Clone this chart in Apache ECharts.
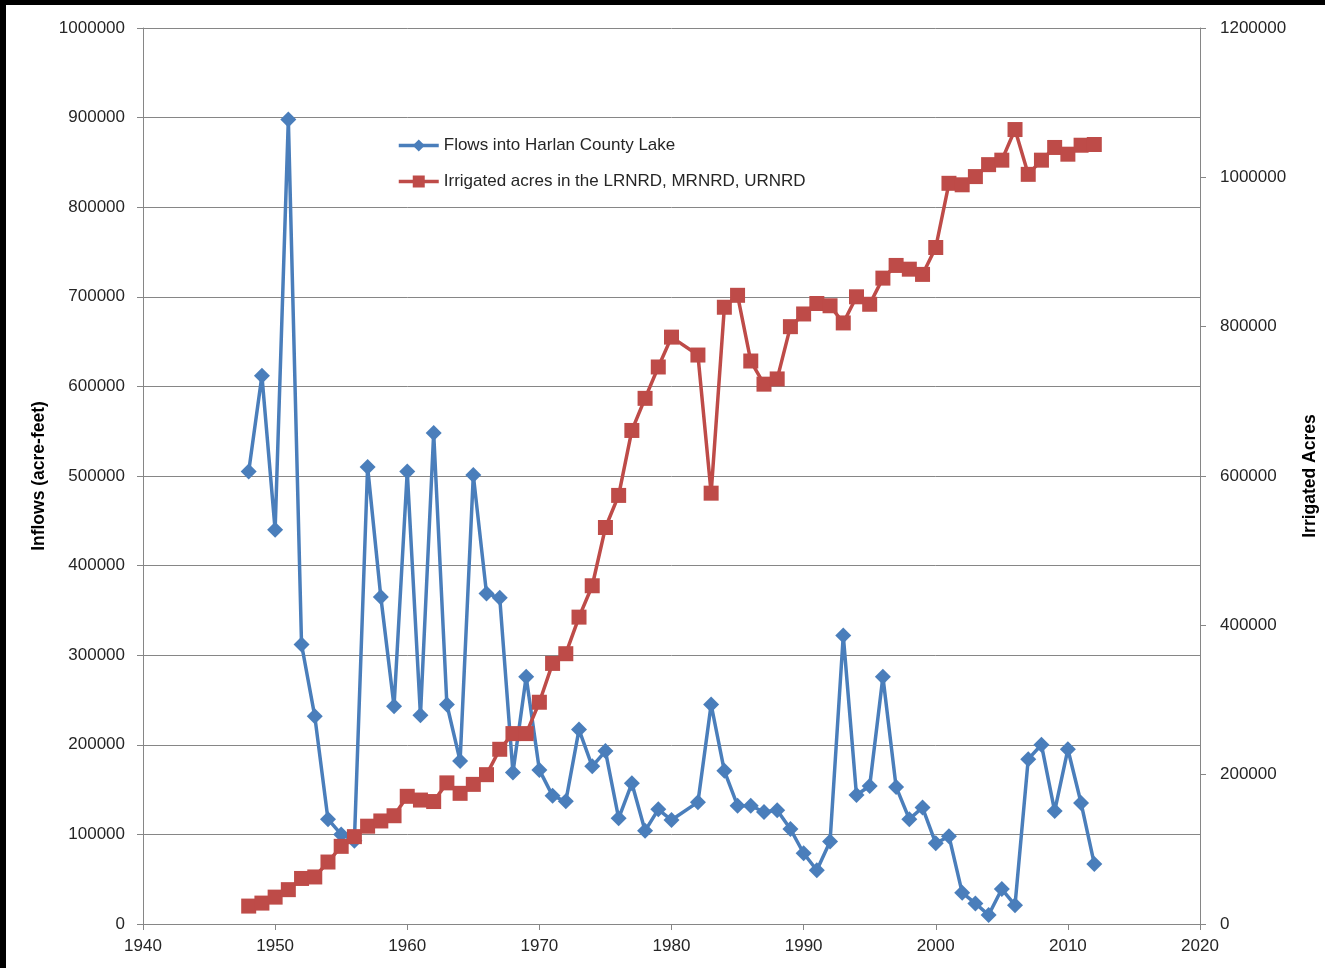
<!DOCTYPE html>
<html>
<head>
<meta charset="utf-8">
<script src="https://cdn.jsdelivr.net/npm/echarts@6/dist/echarts.min.js"></script>
<style>
html,body{margin:0;padding:0;background:#fff;}
#wrap{width:1325px;height:968px;position:relative;}
#chart{width:1325px;height:968px;}
.edge_top{position:absolute;left:0;top:0;width:1325px;height:5px;background:#000;}
.edge_left{position:absolute;left:0;top:0;width:6px;height:968px;background:#000;}
</style>
</head>
<body>
<div id="wrap">
  <div id="chart"></div>
  <span class="edge_top"></span>
  <span class="edge_left"></span>
</div>
<script>
// years shared by both series (1981 not reported)
var years = [1948,1949,1950,1951,1952,1953,1954,1955,1956,1957,1958,1959,1960,1961,1962,1963,1964,1965,1966,1967,
  1968,1969,1970,1971,1972,1973,1974,1975,1976,1977,1978,1979,1980,1982,1983,1984,1985,1986,1987,1988,1989,
  1990,1991,1992,1993,1994,1995,1996,1997,1998,1999,2000,2001,2002,2003,2004,2005,2006,2007,2008,2009,2010,2011,2012];

// flows into Harlan County Lake (acre-feet)
var flows = [505000,612000,440000,898000,312000,232000,117000,100000,93000,510000,365000,243000,505000,233000,548000,245000,182000,501000,369000,364000,
  169000,276000,172000,143000,137000,217000,176000,193000,118000,157000,104000,128000,116000,136000,245000,171000,132000,132000,125000,127000,106000,
  79000,60000,92000,322000,144000,154000,276000,153000,117000,130000,90000,98000,35000,23000,10000,39000,21000,184000,200000,126000,195000,135000,67000];

// irrigated acres in the LRNRD, MRNRD, URNRD
var acres = [24000,28000,36000,46000,61000,63000,83000,104000,117000,131000,138000,145000,171000,166000,164000,189000,175000,187000,200000,234000,
  255000,255000,297000,349000,362000,411000,453000,531000,574000,661000,704000,746000,786000,762000,577000,826000,842000,754000,723000,730000,800000,
  817000,831000,828000,805000,840000,830000,865000,882000,877000,870000,906000,992000,990000,1001000,1017000,1023000,1064000,1004000,1023000,1040000,1031000,1043000,1044000];

var xTicks = {min:1940, max:2020, step:10};
var leftTicks = {min:0, max:1000000, step:100000};
var rightTicks = {min:0, max:1200000, step:200000};

function pairs(vals){
  return years.map(function(y,i){ return [y, vals[i]]; });
}
function plain(v){ return String(v); }

var txt = '#262626', axisGray = '#868686';
var font = 'Liberation Sans';

var chart = echarts.init(document.getElementById('chart'));
chart.setOption({
  backgroundColor:'#fff',
  animation:false,
  textStyle:{fontFamily:font},
  grid:{left:143, right:125, top:28, bottom:44, outerBoundsMode:'none', containLabel:false},
  legend:{
    orient:'vertical', left:392, top:132,
    itemWidth:40, itemHeight:15, itemGap:19,
    lineStyle:{width:3.5},
    textStyle:{fontFamily:font, fontSize:17, color:txt},
    data:['Flows into Harlan County Lake','Irrigated acres in the LRNRD, MRNRD, URNRD']
  },
  xAxis:{
    type:'value', min:xTicks.min, max:xTicks.max, interval:xTicks.step,
    axisLine:{show:true, lineStyle:{color:axisGray, width:1}},
    axisTick:{show:true, inside:false, length:6, lineStyle:{color:axisGray}},
    axisLabel:{color:txt, fontSize:17, margin:14, fontFamily:font, formatter:plain},
    splitLine:{show:false}
  },
  yAxis:[
    {
      type:'value', min:leftTicks.min, max:leftTicks.max, interval:leftTicks.step,
      name:'Inflows (acre-feet)', nameLocation:'middle', nameRotate:90, nameGap:95,
      nameTextStyle:{fontFamily:font, fontSize:17.5, fontWeight:'bold', color:'#000'},
      axisLine:{show:true, lineStyle:{color:axisGray, width:1}},
      axisTick:{show:true, length:6, lineStyle:{color:axisGray}},
      axisLabel:{color:txt, fontSize:17, margin:18, fontFamily:font, formatter:plain},
      splitLine:{show:true, lineStyle:{color:axisGray, width:1}}
    },
    {
      type:'value', min:rightTicks.min, max:rightTicks.max, interval:rightTicks.step,
      position:'right',
      name:'Irrigated Acres', nameLocation:'middle', nameRotate:90, nameGap:101,
      nameTextStyle:{fontFamily:font, fontSize:17.5, fontWeight:'bold', color:'#000'},
      axisLine:{show:true, lineStyle:{color:axisGray, width:1}},
      axisTick:{show:true, length:6, lineStyle:{color:axisGray}},
      axisLabel:{color:txt, fontSize:17, margin:20, fontFamily:font, formatter:plain},
      splitLine:{show:false}
    }
  ],
  series:[
    {
      name:'Flows into Harlan County Lake', type:'line', yAxisIndex:0,
      data:pairs(flows),
      symbol:'diamond', symbolSize:16,
      lineStyle:{color:'#4A7EBB', width:3.5},
      itemStyle:{color:'#4A7EBB'}
    },
    {
      name:'Irrigated acres in the LRNRD, MRNRD, URNRD', type:'line', yAxisIndex:1,
      data:pairs(acres),
      symbol:'rect', symbolSize:15,
      lineStyle:{color:'#BE4B48', width:3.5},
      itemStyle:{color:'#BE4B48'}
    }
  ]
});
</script>
</body>
</html>
